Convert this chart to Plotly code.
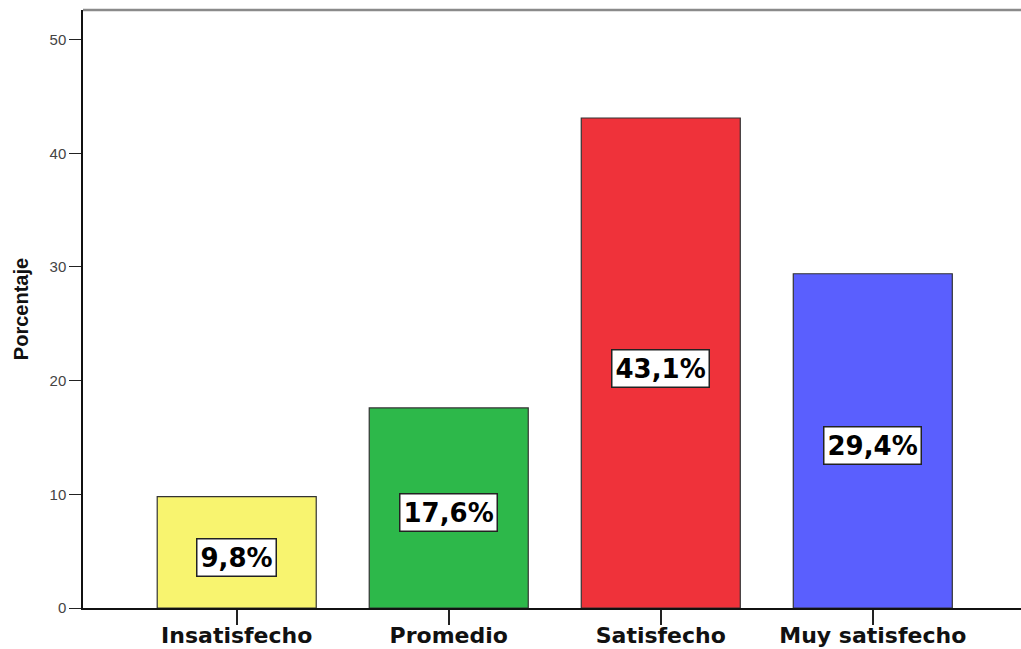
import plotly.graph_objects as go

categories = ["Insatisfecho", "Promedio", "Satisfecho", "Muy satisfecho"]
values = [9.8, 17.6, 43.1, 29.4]
colors = ["#f8f46f", "#2db84a", "#ef323a", "#5a5ffe"]
y_ticks = [0, 10, 20, 30, 40, 50]

fig = go.Figure()
fig.add_trace(go.Bar(
    x=list(range(len(categories))), y=values,
    width=0.75,
    marker=dict(color=colors, line=dict(color="#333333", width=1.2)),
    hoverinfo="skip",
))

for i, v in enumerate(values):
    fig.add_annotation(
        x=i, y=v / 2, xref="x", yref="y",
        text=f"{v:.1f}".replace(".", ",") + "%",
        showarrow=False, yshift=-5,
        font=dict(family="DejaVu Sans", size=26, color="black", weight="bold"),
        bgcolor="white", bordercolor="#222222", borderwidth=1.5, borderpad=3,
    )

fig.add_shape(type="line", xref="paper", yref="paper", x0=0, x1=1, y0=1, y1=1,
              line=dict(color="#8a8a8a", width=2.5))

fig.update_layout(
    width=1021, height=649,
    margin=dict(l=83, r=0, t=10, b=41, autoexpand=False),
    paper_bgcolor="white", plot_bgcolor="white",
    showlegend=False,
    xaxis=dict(
        range=[-0.725, 3.699], automargin=False,
        tickmode="array", tickvals=list(range(len(categories))), ticktext=categories,
        ticks="outside", ticklen=15, tickwidth=1.5, tickcolor="#222222",
        ticklabelstandoff=-8,
        showline=True, linecolor="#111111", linewidth=1.5,
        showgrid=False, zeroline=False,
        tickfont=dict(family="DejaVu Sans", size=22, color="#111111", weight="bold"),
    ),
    yaxis=dict(
        range=[0, 52.6], automargin=False,
        tickmode="array", tickvals=y_ticks,
        ticks="outside", ticklen=12, tickwidth=1.2, tickcolor="#222222",
        showline=True, linecolor="#111111", linewidth=1.5,
        showgrid=False, zeroline=False,
        tickfont=dict(family="Arial, Liberation Sans", size=15, color="#444444"),
        title=dict(text="Porcentaje", standoff=16,
                   font=dict(family="Arial, Liberation Sans", size=20, color="#111111", weight="bold")),
    ),
)

fig.write_html("out.html", config={"displayModeBar": False})

with open("out.html", "r", encoding="utf-8") as f:
    html = f.read()
html = html.replace("<head>", "<head><style>html,body{margin:0;padding:0;overflow:hidden;}</style>", 1)
with open("out.html", "w", encoding="utf-8") as f:
    f.write(html)
